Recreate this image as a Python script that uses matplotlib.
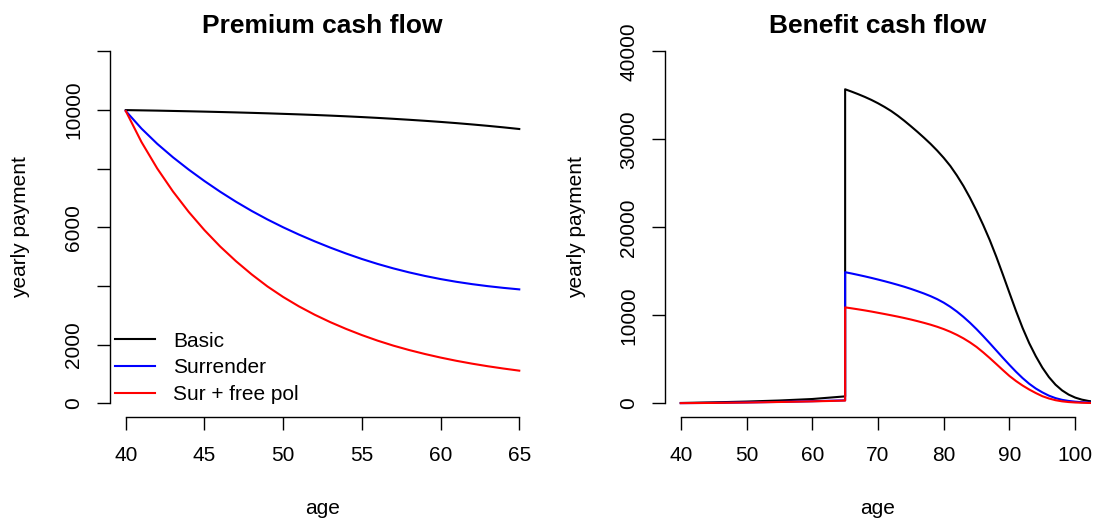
import matplotlib
matplotlib.use("Agg")
import matplotlib.pyplot as plt

plt.rcParams["font.family"] = ["Liberation Sans", "DejaVu Sans"]

# premium cash flow, ages 40..65
prem_age = list(range(40, 66))
prem_basic = [10000, 9991, 9982, 9971, 9960, 9948, 9935, 9921, 9906, 9890,
              9872, 9854, 9834, 9812, 9788, 9762, 9734, 9703, 9670, 9635,
              9597, 9556, 9511, 9463, 9411, 9355]
prem_surr = [9970, 9370, 8850, 8390, 7970, 7580, 7215, 6875, 6560, 6270,
             6002, 5754, 5524, 5308, 5107, 4921, 4752, 4600, 4464, 4343,
             4236, 4143, 4063, 3994, 3935, 3884]
prem_free = [9970, 8911, 8009, 7224, 6527, 5905, 5346, 4847, 4395, 3985,
             3625, 3305, 3020, 2765, 2535, 2325, 2135, 1965, 1815, 1680,
             1558, 1448, 1350, 1262, 1183, 1111]

# benefit cash flow: before retirement (death benefit), then annuity from 65
ben_age_pre = [40, 45, 50, 55, 60, 65]
ben_basic_pre = [30, 100, 190, 310, 480, 780]
ben_surr_pre = [10, 40, 90, 150, 230, 330]
ben_free_pre = [10, 35, 80, 140, 210, 300]

ben_age_post = list(range(65, 104))
ben_basic_post = [35700, 35430, 35140, 34830, 34490, 34110, 33690, 33230, 32700, 32120,
                  31500, 30860, 30190, 29490, 28730, 27900, 26980, 25900, 24700, 23350,
                  21870, 20270, 18550, 16650, 14620, 12540, 10480, 8550, 6830, 5350,
                  4050, 2970, 2110, 1460, 980, 640, 410, 260, 160]
ben_surr_post = [14900, 14750, 14590, 14425, 14250, 14065, 13875, 13675, 13465, 13245,
                 13005, 12745, 12475, 12175, 11835, 11435, 10965, 10425, 9815, 9145,
                 8415, 7635, 6825, 5995, 5165, 4355, 3575, 2855, 2215, 1675,
                 1235, 860, 580, 385, 260, 175, 120, 85, 60]
ben_free_post = [10900, 10790, 10675, 10555, 10425, 10285, 10145, 10000, 9850, 9690,
                 9520, 9335, 9140, 8930, 8695, 8430, 8125, 7775, 7375, 6915,
                 6395, 5785, 5135, 4455, 3765, 3095, 2520, 2010, 1560, 1160,
                 800, 540, 345, 215, 135, 85, 55, 35, 22]

labels = ["Basic", "Surrender", "Sur + free pol"]
colors = ["black", "blue", "red"]

W, H = 1095, 522
fig = plt.figure(figsize=(W / 100, H / 100), dpi=100)
ax1 = fig.add_axes([110 / W, (H - 417.3) / H, 425 / W, 379.9 / H])
ax2 = fig.add_axes([665 / W, (H - 417.3) / H, 426 / W, 379.9 / H])


def r_style(ax, xticks, yticks, ylabels, title):
    for s in ["top", "right"]:
        ax.spines[s].set_visible(False)
    ax.spines["left"].set_bounds(yticks[0], yticks[-1])
    ax.spines["bottom"].set_bounds(xticks[0], xticks[-1])
    ax.spines["left"].set_linewidth(1.0)
    ax.spines["bottom"].set_linewidth(1.0)
    ax.set_xticks(xticks)
    ax.set_yticks(yticks)
    ax.set_yticklabels(ylabels)
    ax.tick_params(length=9.7, width=1.0, labelsize=15)
    ax.tick_params(axis="x", pad=10.7)
    ax.tick_params(axis="y", pad=9.7, labelrotation=90)
    for lab in ax.get_yticklabels():
        lab.set_va("center")
    ax.set_xlabel("age", fontsize=15, va="baseline")
    ax.xaxis.set_label_coords(0.5, -0.2545)
    ax.set_ylabel("yearly payment", fontsize=15, va="center")
    ax.set_title(title, fontsize=19, fontweight="bold", y=1.0103, pad=0)


# left: premium
for vals, c, lab in zip([prem_basic, prem_surr, prem_free], colors, labels):
    ax1.plot(prem_age, vals, color=c, lw=1.5, label=lab)
ax1.set_xlim(39, 66)
ax1.set_ylim(-480, 12480)
r_style(ax1, [40, 45, 50, 55, 60, 65], list(range(0, 12001, 2000)),
        ["0", "2000", "", "6000", "", "10000", ""], "Premium cash flow")
ax1.yaxis.set_label_coords(-0.21, 0.5)
ax1.legend(loc="center left", bbox_to_anchor=(0.0118, 0.13), frameon=False,
           borderpad=0, borderaxespad=0, handlelength=1.9, handletextpad=0.9,
           labelspacing=0.37, fontsize=15)

# right: benefit
pre = [ben_basic_pre, ben_surr_pre, ben_free_pre]
post = [ben_basic_post, ben_surr_post, ben_free_post]
for p, q, c in zip(pre, post, colors):
    ax2.plot(ben_age_pre + ben_age_post, p + q, color=c, lw=1.5)
ax2.set_xlim(37.6, 102.4)
ax2.set_ylim(-1600, 41600)
r_style(ax2, [40, 50, 60, 70, 80, 90, 100], list(range(0, 40001, 10000)),
        ["0", "10000", "20000", "30000", "40000"], "Benefit cash flow")
ax2.yaxis.set_label_coords(-0.208, 0.5)

fig.savefig("out.png", dpi=100)
